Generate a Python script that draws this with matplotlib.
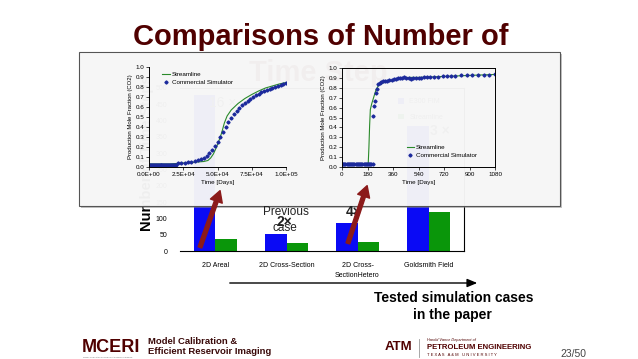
import numpy as np
import matplotlib
matplotlib.use('Agg')
import matplotlib.pyplot as plt
from matplotlib.patches import Rectangle, FancyArrowPatch
from matplotlib.lines import Line2D

# ---------------- data ----------------
categories = ["2D Areal", "2D Cross-Section", "2D Cross-\nSectionHetero", "Goldsmith Field"]
commercial_steps = [478, 52, 87, 383]
streamline_steps = [37, 25, 28, 120]
bar_yticks = [0, 50, 100, 150, 200, 250, 300, 350, 400, 450, 500]

# left panel (time in days)
left_sl_t = [0, 5000, 10000, 15000, 20000, 25000, 30000, 35000, 40000, 43000, 45000, 47000,
             49000, 51000, 53000, 55000, 57000, 60000, 65000, 70000, 75000, 80000, 85000,
             90000, 95000, 100000]
left_sl_y = [0.03, 0.03, 0.03, 0.03, 0.035, 0.04, 0.045, 0.05, 0.055, 0.065, 0.09, 0.13,
             0.19, 0.26, 0.34, 0.44, 0.51, 0.57, 0.635, 0.685, 0.725, 0.76, 0.79,
             0.81, 0.83, 0.845]
left_cs_t = [0, 700, 1400, 2100, 2800, 3500, 4200, 4900, 5600, 6300, 7000, 7700, 8400, 9100,
             9800, 10500, 11200, 11900, 12600, 13300, 14000, 14700, 15400, 16100, 16800,
             17500, 18200, 18900, 19600,
             21000, 23500, 26000, 28500, 31000, 33500, 36000, 38000, 40000, 42000, 44000,
             46000, 48000, 50000, 52000, 54000, 56000, 58000, 60000, 62000, 64000, 66000,
             68000, 70000, 72000, 74000, 76000, 78000, 80000, 82000, 84000, 86000, 88000,
             90000, 92000, 94000, 96000, 98000, 100000]
left_cs_y = [0.025, 0.025, 0.025, 0.025, 0.025, 0.025, 0.025, 0.025, 0.025, 0.025, 0.025,
             0.025, 0.025, 0.025, 0.025, 0.025, 0.025, 0.025, 0.025, 0.025, 0.025, 0.025,
             0.025, 0.025, 0.025, 0.025, 0.025, 0.025, 0.025,
             0.04, 0.042, 0.045, 0.048, 0.052, 0.058, 0.068, 0.08, 0.095, 0.115, 0.14,
             0.17, 0.21, 0.25, 0.30, 0.35, 0.40, 0.45, 0.49, 0.53, 0.565, 0.595,
             0.62, 0.645, 0.665, 0.685, 0.705, 0.72, 0.735, 0.75, 0.765, 0.775, 0.785,
             0.795, 0.805, 0.815, 0.823, 0.831, 0.84]
left_xticks = [0, 25000, 50000, 75000, 100000]
left_xticklabels = ["0.0E+00", "2.5E+04", "5.0E+04", "7.5E+04", "1.0E+05"]

# right panel
right_sl_t = [0, 100, 185, 190, 195, 200, 210, 225, 240, 260, 290, 330, 380, 420, 480,
              540, 630, 720, 810, 900, 990, 1080]
right_sl_y = [0.03, 0.03, 0.03, 0.2, 0.42, 0.58, 0.64, 0.71, 0.78, 0.83, 0.85, 0.865, 0.88,
              0.9, 0.905, 0.905, 0.91, 0.915, 0.92, 0.925, 0.93, 0.935]
right_cs_t = [0, 8, 16, 24, 32, 40, 48, 56, 64, 72, 80, 88, 96, 104, 112, 120, 128, 136, 144,
              152, 160, 168, 176, 184, 192, 200, 208, 216,
              222, 226, 230, 238, 246, 256, 266, 278, 290, 305, 320, 335, 350, 365, 380,
              395, 410, 425, 440, 455, 470, 485, 500, 520, 540, 560, 580, 600, 620, 650,
              680, 710, 740, 770, 800, 840, 880, 920, 960, 1000, 1040, 1080]
right_cs_y = [0.03, 0.03, 0.03, 0.03, 0.03, 0.03, 0.03, 0.03, 0.03, 0.03, 0.03, 0.03, 0.03,
              0.03, 0.03, 0.03, 0.03, 0.03, 0.03, 0.03, 0.03, 0.03, 0.03, 0.03, 0.03, 0.03,
              0.03, 0.03,
              0.515, 0.615, 0.665, 0.745, 0.79, 0.835, 0.85, 0.86, 0.865, 0.865, 0.87,
              0.875, 0.88, 0.885, 0.89, 0.9, 0.9, 0.9, 0.905, 0.9, 0.895, 0.89, 0.895,
              0.9, 0.9, 0.9, 0.905, 0.905, 0.905, 0.91, 0.91, 0.915, 0.915, 0.92, 0.92,
              0.925, 0.925, 0.93, 0.93, 0.93, 0.93, 0.935]
right_xticks = [0, 180, 360, 540, 720, 900, 1080]
frac_yticks = [0.0, 0.1, 0.2, 0.3, 0.4, 0.5, 0.6, 0.7, 0.8, 0.9, 1.0]

# ---------------- layout helpers ----------------
W, H = 638, 359
fig = plt.figure(figsize=(W / 100, H / 100), dpi=100)
fig.patch.set_facecolor('white')


def rect(x0, y0, x1, y1):
    return [x0 / W, 1 - y1 / H, (x1 - x0) / W, (y1 - y0) / H]


def fx(x):
    return x / W


def fy(y):
    return 1 - y / H


NARROW = ['Liberation Sans Narrow', 'Liberation Sans', 'DejaVu Sans']
SANS = ['Liberation Sans', 'DejaVu Sans']
MAROON = '#500000'
BLUE = '#0a0af5'
GREEN = '#0a960a'

# ---------------- background bar chart ----------------
axb = fig.add_axes(rect(180, 88, 464, 251))
axb.set_zorder(0)
xpos = np.arange(len(categories))
axb.bar(xpos - 0.15, commercial_steps, 0.3, color=BLUE, label='E300 FIM')
axb.bar(xpos + 0.15, streamline_steps, 0.3, color=GREEN, label='Streamline')
axb.set_xlim(-0.5, 3.5)
axb.set_ylim(0, 500)
axb.set_yticks(bar_yticks)
axb.set_xticks(xpos)
axb.set_xticklabels(categories, fontsize=5, family=SANS, linespacing=1.5)
axb.tick_params(axis='x', length=0, pad=8)
axb.tick_params(axis='y', length=0, pad=9, labelsize=5)
for lab in axb.get_yticklabels():
    lab.set_family(SANS)
axb.spines['left'].set_visible(False)
for s in ['top', 'right', 'bottom']:
    axb.spines[s].set_linewidth(0.8)
axb.legend(loc='upper left', bbox_to_anchor=(fx(392), fy(92)), bbox_transform=fig.transFigure,
           frameon=False, prop={'family': SANS, 'size': 5}, handlelength=0.8, handleheight=0.8,
           labelspacing=1.2)
axb.text(fx(147), fy(231), 'Number of Time Steps', transform=fig.transFigure, rotation=90,
         ha='center', va='bottom', fontsize=10.5, fontweight='bold', family=SANS)
axb.text(fx(223), fy(103), '16 ×', transform=fig.transFigure, ha='center', va='center',
         fontsize=10, family=SANS, color='#333333')
axb.text(fx(440), fy(131), '3 ×', transform=fig.transFigure, ha='center', va='center',
         fontsize=10, fontweight='bold', family=SANS, color='#333333')

# title
fig.text(fx(321), fy(37), 'Comparisons of Number of', ha='center', va='center', fontsize=21,
         fontweight='bold', color=MAROON, family=NARROW, zorder=1)
fig.text(fx(318), fy(73), 'Time Step', ha='center', va='center', fontsize=21,
         fontweight='bold', color=MAROON, family=NARROW, zorder=1)

# annotations outside the overlay
fig.text(fx(286), fy(212), 'Previous', ha='center', va='center', fontsize=8.5, family=SANS,
         color='#222222', zorder=5)
fig.text(fx(285), fy(228), 'case', ha='center', va='center', fontsize=8.5, family=SANS,
         color='#222222', zorder=5)
fig.text(fx(284), fy(222), '2×', ha='center', va='center', fontsize=10, fontweight='bold',
         family=SANS, color='#222222', zorder=5)
fig.text(fx(354), fy(212), '4×', ha='center', va='center', fontsize=10, fontweight='bold',
         family=SANS, color='#222222', zorder=5)

# ---------------- overlay box ----------------
fig.add_artist(Rectangle((fx(81), fy(208)), (560 - 79) / W, (208 - 54) / H,
                         transform=fig.transFigure, facecolor='#888888', alpha=0.5,
                         edgecolor='none', zorder=1.9))
fig.add_artist(Rectangle((fx(79), fy(206)), (560 - 79) / W, (206 - 52) / H,
                         transform=fig.transFigure, facecolor='#fafafa', alpha=0.94,
                         edgecolor='none', zorder=2))
fig.add_artist(Rectangle((fx(79), fy(206)), (560 - 79) / W, (206 - 52) / H,
                         transform=fig.transFigure, fill=False, edgecolor='#555555',
                         linewidth=0.8, zorder=2.1))


def style_line_axes(ax):
    ax.set_facecolor('none')
    ax.set_zorder(3)
    ax.set_ylim(0, 1)
    ax.set_yticks(frac_yticks)
    ax.set_yticklabels(['%.1f' % v for v in frac_yticks])
    ax.tick_params(length=2, width=0.5, labelsize=4.5, pad=1.5)
    for lab in ax.get_xticklabels() + ax.get_yticklabels():
        lab.set_family(SANS)
    for s in ax.spines.values():
        s.set_linewidth(0.7)
    ax.set_ylabel('Production Mole Fraction (CO2)', fontsize=4.3, family=SANS, labelpad=2)
    ax.set_xlabel('Time [Days]', fontsize=4.5, family=SANS, labelpad=2.5)


# left line chart
axl = fig.add_axes(rect(149, 67, 286, 167))
axl.plot(left_sl_t, left_sl_y, color='#2a8a2a', lw=0.8, label='Streamline')
axl.plot(left_cs_t, left_cs_y, ls='none', marker='D', ms=1.6, color='#1c2a9c',
         label='Commercial Simulator')
axl.set_xlim(0, 100000)
axl.set_xticks(left_xticks)
axl.set_xticklabels(left_xticklabels)
style_line_axes(axl)
axl.spines['top'].set_visible(False)
axl.spines['right'].set_visible(False)
axl.legend(loc='upper left', bbox_to_anchor=(fx(160), fy(69)), bbox_transform=fig.transFigure,
           frameon=False, prop={'family': SANS, 'size': 4.5}, handlelength=1.2,
           handletextpad=0.3, labelspacing=0.5, borderaxespad=0)

# right line chart
axr = fig.add_axes(rect(342, 68, 495, 167))
axr.plot(right_sl_t, right_sl_y, color='#2a8a2a', lw=0.8, label='Streamline')
axr.plot(right_cs_t, right_cs_y, ls='none', marker='D', ms=1.6, color='#1c2a9c',
         label='Commercial Simulator')
axr.set_xlim(0, 1080)
axr.set_xticks(right_xticks)
style_line_axes(axr)
axr.legend(loc='upper left', bbox_to_anchor=(fx(404), fy(142)), bbox_transform=fig.transFigure,
           frameon=False, prop={'family': SANS, 'size': 4.5}, handlelength=1.2,
           handletextpad=0.3, labelspacing=0.5, borderaxespad=0)

# ---------------- arrows ----------------
for (x0, y0, x1, y1) in [(199, 250, 221, 188), (347, 246, 368, 183)]:
    fig.add_artist(FancyArrowPatch((fx(x0), fy(y0)), (fx(x1), fy(y1)),
                                   transform=fig.transFigure,
                                   arrowstyle='simple,head_length=0.8,head_width=0.9,tail_width=0.28',
                                   mutation_scale=10, color='#8b1a1a', zorder=6))
fig.add_artist(FancyArrowPatch((fx(227), fy(283)), (fx(480), fy(283)),
                               transform=fig.transFigure, arrowstyle='-|>,head_length=0.6,head_width=0.25',
                               mutation_scale=10, color='black', lw=1.0, zorder=6))
fig.text(fx(454), fy(298), 'Tested simulation cases', ha='center', va='center', fontsize=10,
         fontweight='bold', family=NARROW, color='black')
fig.text(fx(452), fy(315), 'in the paper', ha='center', va='center', fontsize=10,
         fontweight='bold', family=NARROW, color='black')

# ---------------- footer ----------------
fig.text(fx(82), fy(347), 'MCERI', ha='left', va='center', fontsize=13, fontweight='bold',
         family=NARROW, color=MAROON)
fig.text(fx(83), fy(357), 'Model Calibration and Efficient Reservoir Imaging', ha='left',
         va='center', fontsize=1.6, family=SANS, color='#777777')
fig.text(fx(148), fy(341), 'Model Calibration &', ha='left', va='center', fontsize=6.8,
         fontweight='bold', family=NARROW, color='#3a0a0a')
fig.text(fx(148), fy(352), 'Efficient Reservoir Imaging', ha='left', va='center', fontsize=6.8,
         fontweight='bold', family=NARROW, color='#3a0a0a')
fig.text(fx(398), fy(347), 'ATM', ha='center', va='center', fontsize=9.5, fontweight='bold',
         family=NARROW, color=MAROON)
fig.add_artist(Line2D([fx(419), fx(419)], [fy(339), fy(357)], transform=fig.transFigure,
                      color='#999999', lw=0.6))
fig.text(fx(427), fy(340), 'Harold Vance Department of', ha='left', va='center', fontsize=2.8,
         style='italic', family=SANS, color=MAROON)
fig.text(fx(427), fy(347.5), 'PETROLEUM ENGINEERING', ha='left', va='center', fontsize=5.6,
         fontweight='bold', family=SANS, color=MAROON)
fig.text(fx(427), fy(354.5), 'T E X A S   A & M   U N I V E R S I T Y', ha='left', va='center',
         fontsize=3.0, family=SANS, color=MAROON)
fig.text(fx(573), fy(354), '23/50', ha='center', va='center', fontsize=7.5, family=NARROW,
         color='#444444')

fig.savefig('out.png', dpi=100, facecolor='white')
